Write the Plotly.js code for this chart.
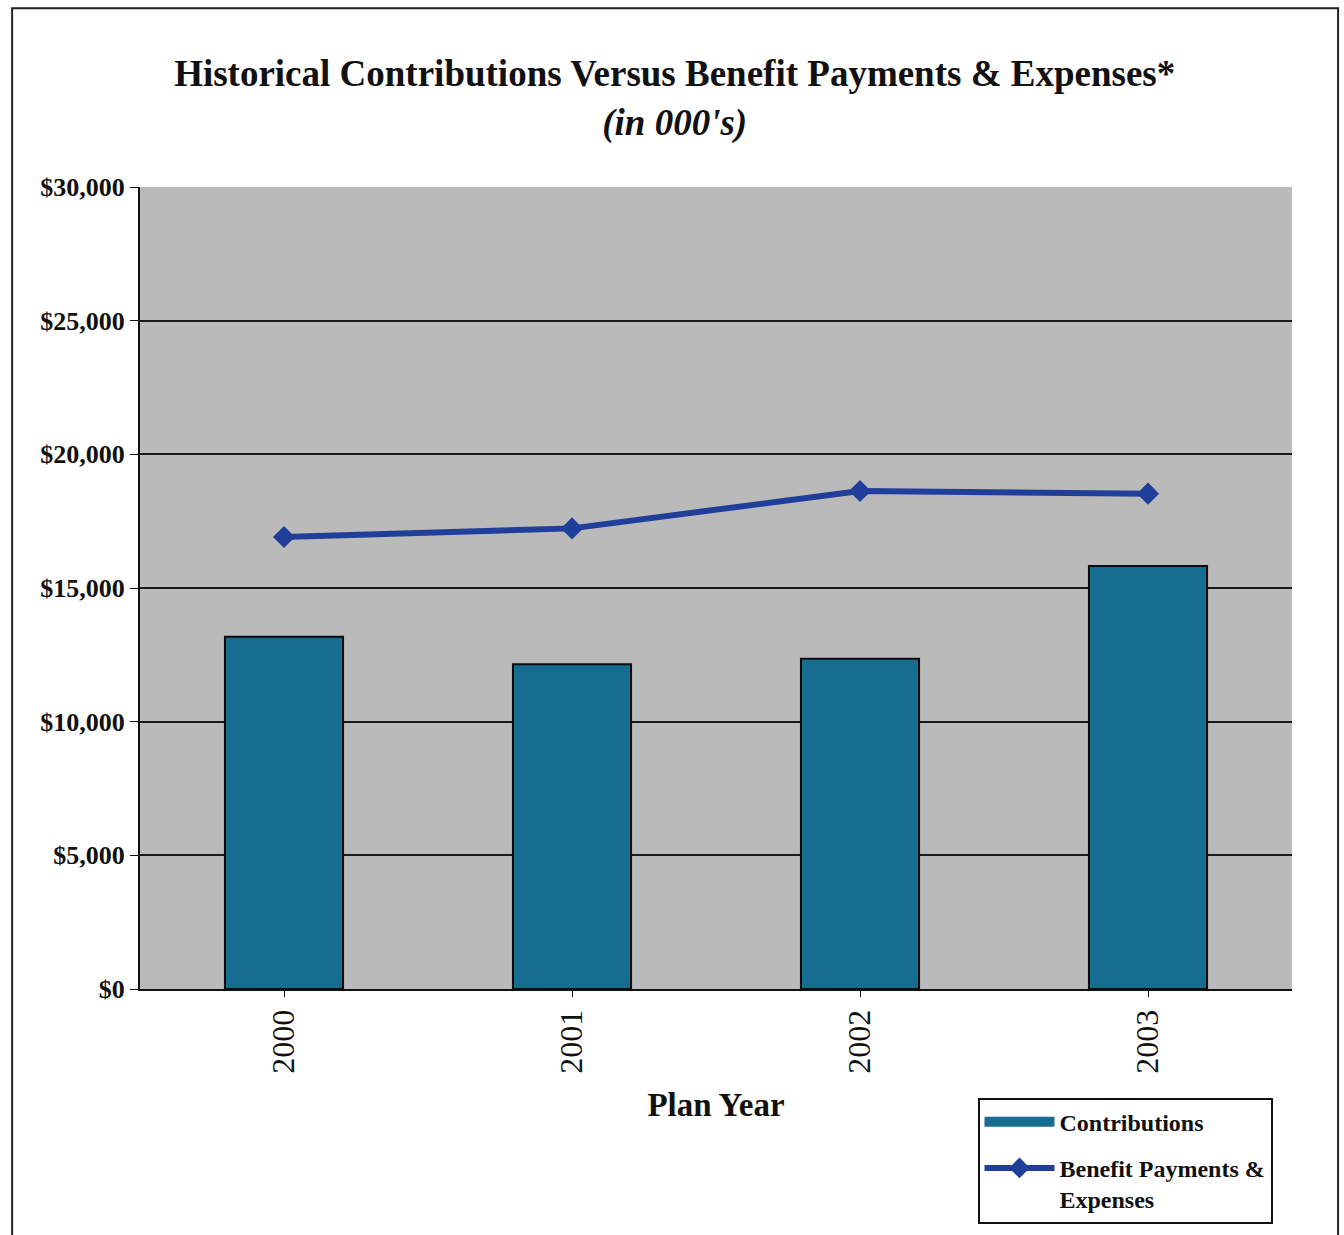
<!DOCTYPE html>
<html>
<head>
<meta charset="utf-8">
<script src="https://cdn.plot.ly/plotly-3.0.1.min.js"></script>
<style>
  html, body { margin: 0; padding: 0; background: #ffffff; }
  #chart { width: 1344px; height: 1235px; }
</style>
</head>
<body>
<div id="chart"></div>
<script>
// Plan years and amounts (in thousands of dollars)
const planYears = ['2000', '2001', '2002', '2003'];
const contributions = [13180, 12150, 12350, 15820];
const benefitPayments = [16910, 17230, 18630, 18530];
const yTickValues = [0, 5000, 10000, 15000, 20000, 25000, 30000];
const yTickLabels = ['$0', '$5,000', '$10,000', '$15,000', '$20,000', '$25,000', '$30,000'];

const serif = 'Liberation Serif, Times New Roman, serif';
const barColor = '#176d8f';
const lineColor = '#203f9a';

const traces = [
  {
    type: 'bar',
    name: 'Contributions',
    x: planYears,
    y: contributions,
    marker: { color: barColor, line: { color: '#0b0b0b', width: 2 } },
    showlegend: false,
    hoverinfo: 'x+y'
  },
  // legend key for the bars, drawn as a wide swatch
  {
    type: 'scatter',
    mode: 'lines',
    name: 'Contributions',
    x: [null],
    y: [null],
    line: { color: barColor, width: 17 },
    legendgroup: 'a',
    hoverinfo: 'skip'
  },
  {
    type: 'scatter',
    mode: 'lines+markers',
    name: 'Benefit Payments &amp;<br>Expenses',
    x: planYears,
    y: benefitPayments,
    line: { color: lineColor, width: 6 },
    marker: { symbol: 'diamond', size: 17, color: lineColor },
    legendgroup: 'b',
    hoverinfo: 'x+y'
  }
];

const layout = {
  width: 1344,
  height: 1235,
  margin: { l: 140, r: 52, t: 187, b: 245 },
  paper_bgcolor: '#ffffff',
  plot_bgcolor: '#bababa',
  bargap: 0.59,
  showlegend: true,
  title: {
    text: '<b>Historical Contributions Versus Benefit Payments &amp; Expenses*</b><br><b><i>(in 000\'s)</i></b>',
    font: { family: serif, size: 37, color: '#111111' },
    x: 0.502,
    xanchor: 'center',
    y: 0.93,
    yanchor: 'top'
  },
  xaxis: {
    type: 'category',
    tickangle: -90,
    tickfont: { family: serif, size: 32, color: '#111111' },
    ticks: 'outside',
    ticklen: 6,
    tickcolor: '#111111',
    showline: true,
    linecolor: '#111111',
    linewidth: 2,
    showgrid: false,
    title: {
      text: '<b>Plan Year</b>',
      font: { family: serif, size: 33, color: '#111111' },
      standoff: 20
    }
  },
  yaxis: {
    range: [0, 30000],
    tickvals: yTickValues,
    ticktext: yTickLabels,
    tickfont: { family: serif, size: 26, color: '#111111', weight: 'bold' },
    ticks: 'outside',
    ticklen: 8,
    tickcolor: '#111111',
    showline: true,
    linecolor: '#111111',
    linewidth: 2,
    showgrid: true,
    gridcolor: '#1a1a1a',
    gridwidth: 1.8,
    zeroline: false
  },
  legend: {
    x: 0.727,
    xanchor: 'left',
    y: -0.134,
    yanchor: 'top',
    bgcolor: '#ffffff',
    bordercolor: '#111111',
    borderwidth: 2,
    font: { family: serif, size: 24, color: '#111111', weight: 'bold' },
    itemwidth: 70,
    valign: 'top',
    traceorder: 'grouped',
    tracegroupgap: 12
  },
  shapes: [
    {
      type: 'rect',
      xref: 'paper', yref: 'paper',
      x0: -0.111, x1: 1.040,
      y0: -0.40, y1: 1.223,
      line: { color: '#222222', width: 2 },
      fillcolor: 'rgba(0,0,0,0)',
      layer: 'below'
    }
  ]
};

Plotly.newPlot('chart', traces, layout, { displayModeBar: false, staticPlot: true });
</script>
</body>
</html>
